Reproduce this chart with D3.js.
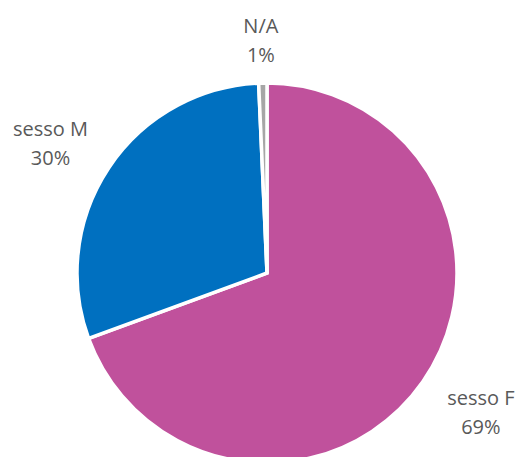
<!DOCTYPE html>
<html>
<head>
<meta charset="utf-8">
<script src="https://cdn.jsdelivr.net/npm/d3@7"></script>
<style>
  html, body { margin: 0; padding: 0; background: #fff; }
  svg { display: block; }
  text { font-family: "Open Sans", sans-serif; font-size: 20px; fill: #595959; }
</style>
</head>
<body>
<svg id="chart"></svg>
<script>
// data (percent of total)
var categories = ["sesso F", "sesso M", "N/A"];
var values = [69.4, 29.9, 0.7];
var colors = ["#C0519C", "#0070C0", "#A6A6A6"];

// label layout: gap from pie edge plus small nudges (px)
var labelGap = [25, 17, 17];
var labelDx = [1, -7, -1];
var labelDy = [-9, 10, 0];

var width = 515;
var height = 457;
var cx = 267;
var cy = 273;
var radius = 190;

var svg = d3.select("#chart")
  .attr("width", width)
  .attr("height", height);

var g = svg.append("g")
  .attr("transform", "translate(" + cx + "," + cy + ")");

var pie = d3.pie().sort(null).value(function (d) { return d; });
var arcs = pie(values);

var arc = d3.arc().innerRadius(0).outerRadius(radius);

// slices
g.selectAll("path")
  .data(arcs)
  .enter()
  .append("path")
  .attr("d", arc)
  .attr("fill", function (d, i) { return colors[i]; })
  .attr("stroke", "#fff")
  .attr("stroke-width", 3.5)
  .attr("stroke-linejoin", "miter");

// labels outside the end of each slice
var halfW = 37, halfH = 25, lineH = 29;
g.selectAll(".label")
  .data(arcs)
  .enter()
  .append("text")
  .attr("class", "label")
  .attr("text-anchor", "middle")
  .each(function (d, i) {
    var a = (d.startAngle + d.endAngle) / 2;
    var sx = Math.sin(a), sy = -Math.cos(a);
    var ext = Math.abs(sx) * halfW + Math.abs(sy) * halfH;
    var r = radius + labelGap[i] + ext;
    var x = sx * r + labelDx[i], y = sy * r + labelDy[i];
    var t = d3.select(this);
    t.append("tspan")
      .attr("x", x)
      .attr("y", y - lineH / 2 + 7)
      .text(categories[i]);
    t.append("tspan")
      .attr("x", x)
      .attr("y", y + lineH / 2 + 7)
      .text(Math.round(values[i]) + "%");
  });
</script>
</body>
</html>
